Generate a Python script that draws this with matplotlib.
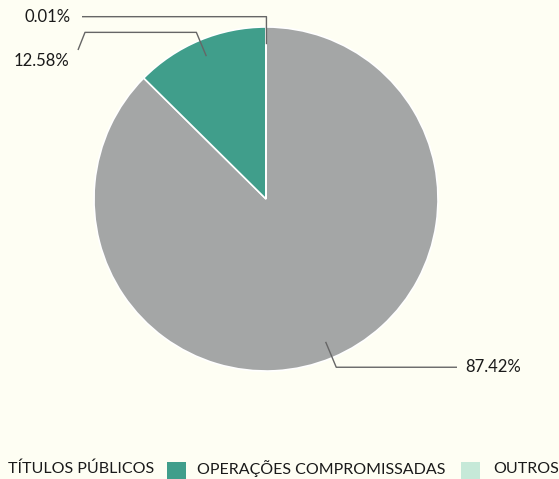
import matplotlib
matplotlib.use("Agg")
import matplotlib.pyplot as plt
import numpy as np
from matplotlib.patches import Rectangle

# data
categories = ["TÍTULOS PÚBLICOS", "OPERAÇÕES COMPROMISSADAS", "OUTROS"]
shares = [87.42, 12.58, 0.01]
colors = ["#a4a6a6", "#409e8b", "#c6e9d8"]

W, H = 559, 479
BG = "#fefef3"
plt.rcParams["font.family"] = ["Lato", "DejaVu Sans"]

fig = plt.figure(figsize=(W / 100, H / 100), dpi=100, facecolor=BG)
ax = fig.add_axes([0, 0, 1, 1])
ax.set_facecolor(BG)

cx, cy, r = 266, H - 199, 172
wedges, _ = ax.pie(shares, colors=colors, startangle=90, counterclock=False,
                   center=(cx, cy), radius=r,
                   wedgeprops=dict(edgecolor="white", linewidth=1.2))
ax.set_xlim(0, W)
ax.set_ylim(0, H)
ax.set_aspect("auto")
ax.axis("off")


def y(py):
    return H - py


def anchor(w, k):
    a = np.deg2rad((w.theta1 + w.theta2) / 2)
    return cx + k * r * np.cos(a), cy + k * r * np.sin(a)


line_kw = dict(color="#666666", lw=1.0, solid_capstyle="butt")
txt_kw = dict(fontsize=12, color="#1a1a1a", va="center")

# 87.42% - right side
x0, y0 = anchor(wedges[0], 0.9)
x1, y1 = anchor(wedges[0], 1.06)
ax.plot([x0, x1, 457], [y0, y1, y1], **line_kw)
ax.text(465, y1, f"{shares[0]:.2f}%", ha="left", **txt_kw)

# 12.58% - upper left
x0, y0 = anchor(wedges[1], 0.9)
x1, y1 = anchor(wedges[1], 1.05)
ax.plot([x0, x1, 85, 78], [y0, y1, y1, y(50)], **line_kw)
ax.text(69, y(61), f"{shares[1]:.2f}%", ha="right", **txt_kw)

# 0.01% - top
x0, y0 = anchor(wedges[2], 0.9)
x1, y1 = anchor(wedges[2], 1.06)
ax.plot([x0 + 0.5, x1 + 0.5, 82], [y0, y1, y1], **line_kw)
ax.text(71, y1, f"{shares[2]:.2f}%", ha="right", **txt_kw)

# legend (first marker falls off the left edge)
marker_x = [-23, 167, 461]
text_x = [8, 197, 493]
for mx, tx, name, c in zip(marker_x, text_x, categories, colors):
    ax.add_patch(Rectangle((mx, y(479)), 19, 17, facecolor=c, edgecolor="none"))
    ax.text(tx, y(469), name, ha="left", fontsize=11.5, color="#1a1a1a",
            va="center")

fig.savefig("out.png", dpi=100, facecolor=BG)
